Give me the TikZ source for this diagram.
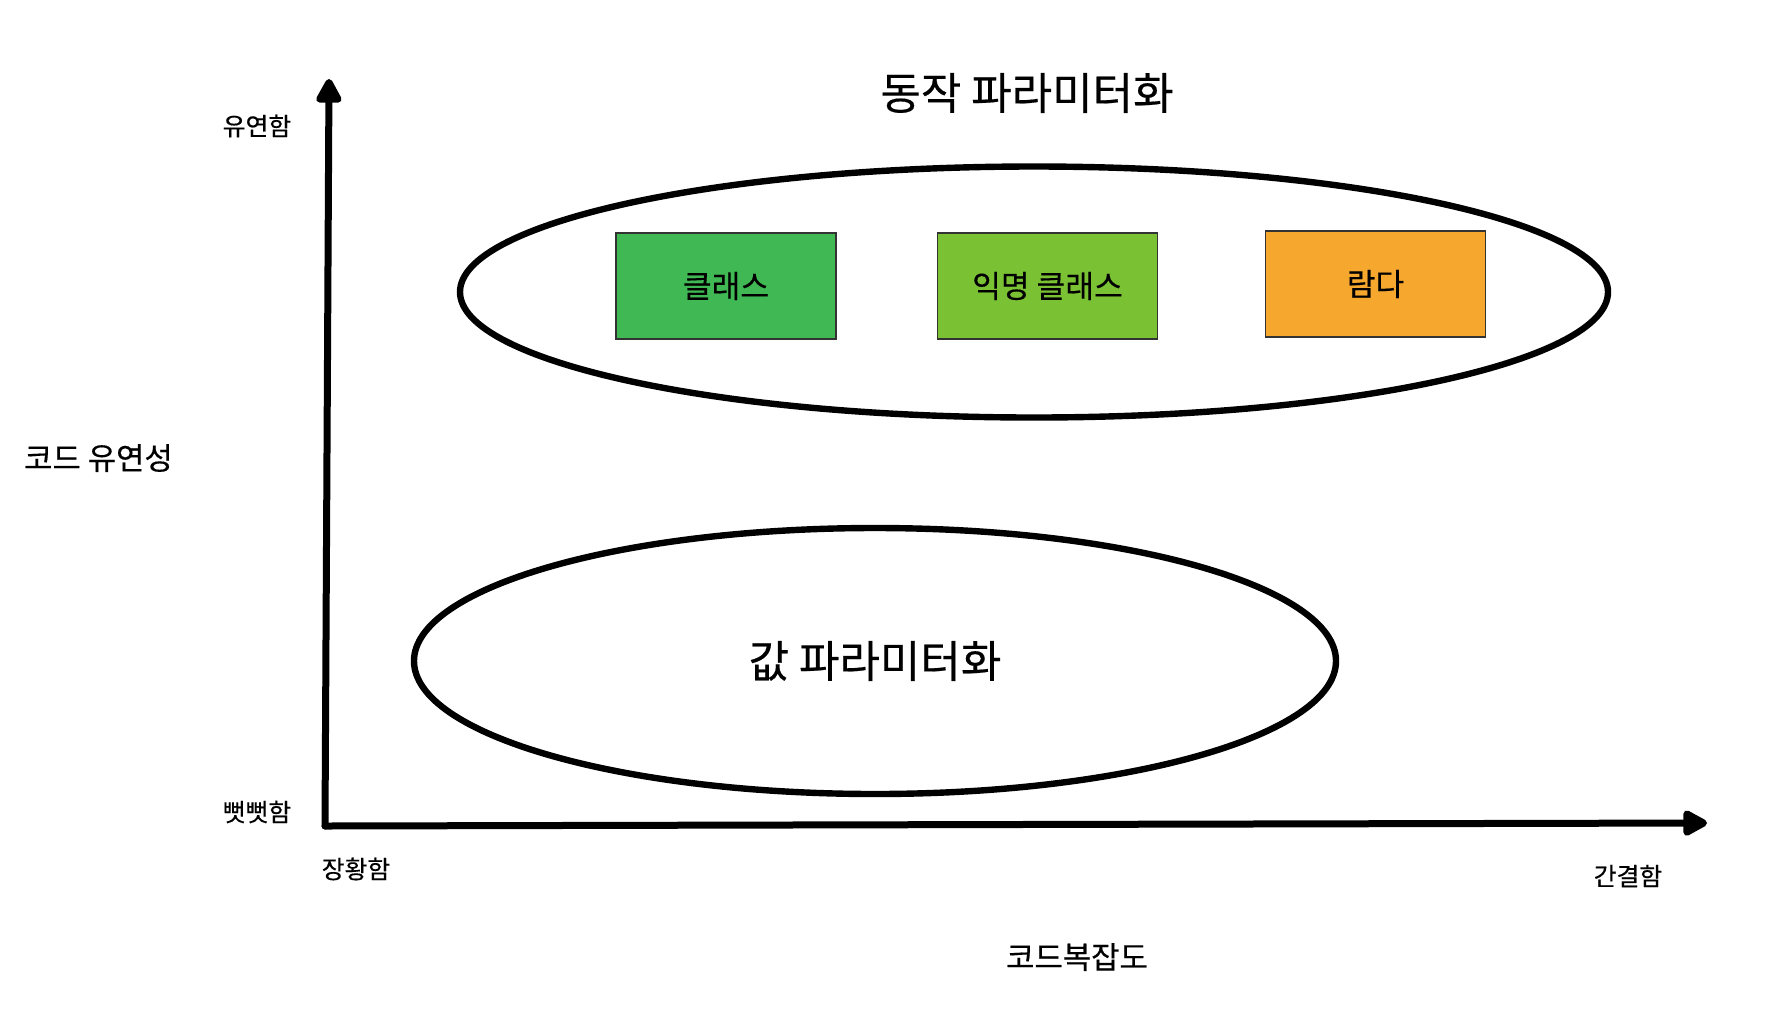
\documentclass[tikz,border=0pt]{standalone}
\usepackage{fontspec}
\setmainfont[FakeBold=0.4]{Noto Sans CJK KR}
\usetikzlibrary{arrows.meta,shapes.geometric}
\definecolor{boxgreen}{HTML}{40B955}
\definecolor{boxlime}{HTML}{7AC134}
\definecolor{boxorange}{HTML}{F5A72E}
\definecolor{boxedge}{HTML}{333333}
\tikzset{
  axisline/.style={line width=3.5pt, line cap=round, -{Triangle[length=14pt,width=14pt,round]}},
  groupell/.style={draw, ellipse, line width=3.2pt, inner sep=0pt},
  kindbox/.style={draw=boxedge, line width=0.8pt, minimum width=110pt, minimum height=53pt, inner sep=0pt, font=\fontsize{15.6pt}{18pt}\selectfont},
  smalllbl/.style={font=\fontsize{12.4pt}{14pt}\selectfont, inner sep=0pt},
  midlbl/.style={font=\fontsize{15.4pt}{18pt}\selectfont, inner sep=0pt},
}
\begin{document}
\begin{tikzpicture}[x=0.5pt,y=-0.5pt]
\useasboundingbox (0,0) rectangle (1778,1008);
% axes
\coordinate (origin) at (325,826);
\coordinate (ytip) at (329,79);
\coordinate (xtip) at (1707,823);
\draw[axisline] (origin) -- (ytip);
\draw[axisline] (origin) -- (xtip);
% ellipses
\node[groupell, minimum width=574pt, minimum height=125.5pt] (upper) at (1034,292) {};
\node[groupell, minimum width=461pt, minimum height=133pt, font=\fontsize{22pt}{26pt}\selectfont] (lower) at (875,661) {값 파라미터화};
% boxes
\node[kindbox, fill=boxgreen] (cls) at (726,286) {클래스};
\node[kindbox, fill=boxlime] (anon) at (1047.5,286) {익명 클래스};
\node[kindbox, fill=boxorange] (lam) at (1375.5,284) {람다};
% labels
\node[font=\fontsize{22pt}{26pt}\selectfont, inner sep=0pt] (title) at (1027,93) {동작 파라미터화};
\node[smalllbl] (flex) at (257,126) {유연함};
\node[smalllbl] (rigid) at (257,812) {뻣뻣함};
\node[smalllbl] (verbose) at (356,869) {장황함};
\node[smalllbl] (concise) at (1628,876) {간결함};
\node[midlbl] (ylabel) at (98.5,458) {코드 유연성};
\node[midlbl] (xlabel) at (1077,957) {코드복잡도};
\end{tikzpicture}
\end{document}
